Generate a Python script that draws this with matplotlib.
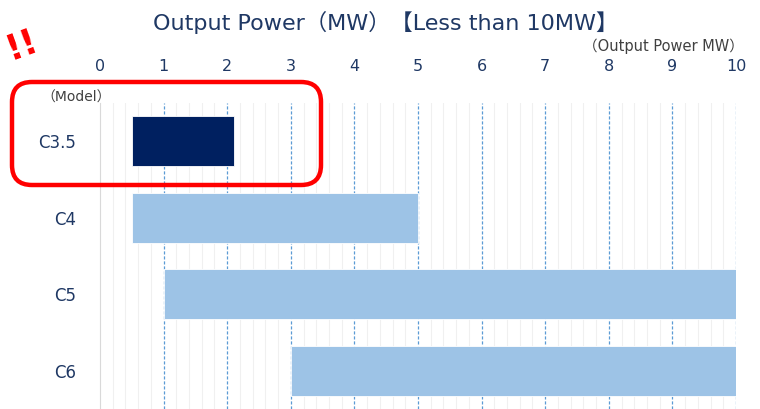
import matplotlib
matplotlib.use("Agg")
import matplotlib.pyplot as plt
import numpy as np
from matplotlib.patches import FancyBboxPatch

plt.rcParams["font.family"] = ["DejaVu Sans", "Noto Sans CJK JP"]

# --- data: output power range per model (MW) ---
models = ["C3.5", "C4", "C5", "C6"]
start = [0.5, 0.5, 1.0, 3.0]
end = [2.1, 5.0, 10.0, 10.0]
colors = ["#002060", "#9DC3E6", "#9DC3E6", "#9DC3E6"]
ticks = list(range(0, 11))

NAVY = "#1F3864"
W, H = 760, 409
fig = plt.figure(figsize=(W / 100, H / 100), dpi=100)
ax = fig.add_axes([100 / W, 0, 636 / W, 1 - 103 / H])

y = np.arange(len(models))
ax.barh(y, np.subtract(end, start), left=start, height=0.66,
        color=colors, edgecolor="white", lw=0.6, zorder=3)

ax.set_xlim(0, 10)
ax.set_ylim(len(models) - 0.5, -0.5)

# grid: light minor lines every 0.2, dashed blue at each integer
ax.set_xticks(np.arange(0, 10.01, 0.2), minor=True)
ax.grid(which="minor", axis="x", color="#F0F0F0", lw=0.8, zorder=0)
for t in ticks[1:]:
    ax.axvline(t, color="#5B9BD5", ls=(0, (2.5, 1.5)), lw=0.9, zorder=1)

ax.xaxis.tick_top()
ax.set_xticks(ticks)
ax.set_xticklabels([str(t) for t in ticks], color=NAVY, fontsize=11.5)
ax.tick_params(axis="x", which="both", length=0, pad=21)
ax.set_yticks(y)
ax.set_yticklabels(models, color=NAVY, fontsize=12)
ax.tick_params(axis="y", length=0, pad=17)

for s in ["top", "right", "bottom"]:
    ax.spines[s].set_visible(False)
ax.spines["left"].set_color("#D9D9D9")
ax.spines["left"].set_zorder(2)

fig.text(386 / W, 1 - 22 / H, "Output Power（MW）【Less than 10MW】",
         ha="center", va="center", color=NAVY, fontsize=16)
fig.text(744 / W, 1 - 46 / H, "（Output Power MW）", ha="right", va="center",
         color="#404040", fontsize=10.5)
fig.text(76 / W, 1 - 98 / H, "（Model）", ha="center", va="center",
         color="#404040", fontsize=10)

# red highlight around C3.5
box = FancyBboxPatch((0.12, 2.24), 3.09, 1.03,
                     boxstyle="round,pad=0,rounding_size=0.2",
                     transform=fig.dpi_scale_trans, fill=False,
                     ec="#FF0000", lw=3.2, clip_on=False)
fig.add_artist(box)
fig.text(22 / W, 1 - 45 / H, "!!", ha="center", va="center", color="#FF0000",
         fontsize=25, fontweight="semibold", rotation=20)

fig.savefig("out.png", dpi=100)
print("ok")
